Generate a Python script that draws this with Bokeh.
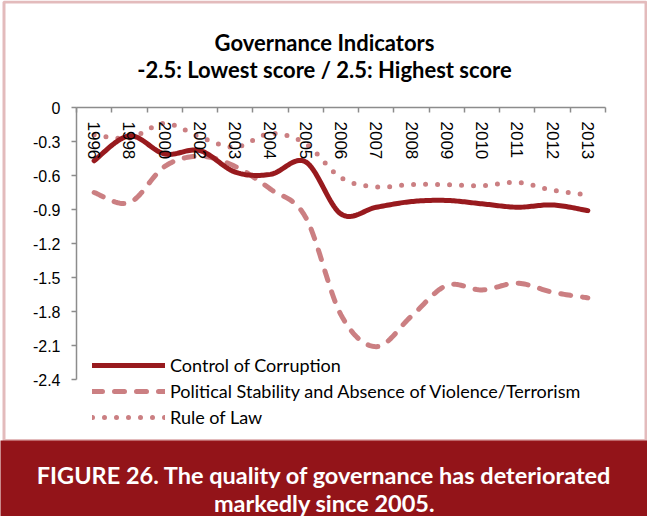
import numpy as np
from bokeh.plotting import figure
from bokeh.models import (Range1d, LinearAxis, FixedTicker, Legend, LegendItem,
                          Label, BoxAnnotation)
from bokeh.embed import file_html
from bokeh.resources import INLINE

# ---------------- data ----------------
years = ["1996", "1998", "2000", "2002", "2003", "2004", "2005", "2006",
         "2007", "2008", "2009", "2010", "2011", "2012", "2013"]
control_of_corruption = [-0.47, -0.25, -0.41, -0.38, -0.57, -0.59, -0.48, -0.94,
                         -0.88, -0.83, -0.82, -0.85, -0.88, -0.86, -0.91]
political_stability = [-0.75, -0.84, -0.52, -0.43, -0.52, -0.72, -0.97, -1.83,
                       -2.11, -1.84, -1.57, -1.61, -1.55, -1.63, -1.68]
rule_of_law = [-0.24, -0.27, -0.14, -0.26, -0.35, -0.23, -0.32, -0.62,
               -0.70, -0.68, -0.68, -0.69, -0.66, -0.73, -0.77]
y_ticks = [0, -0.3, -0.6, -0.9, -1.2, -1.5, -1.8, -2.1, -2.4]
y_tick_labels = ["0", "-0.3", "-0.6", "-0.9", "-1.2", "-1.5", "-1.8", "-2.1", "-2.4"]
series_names = ["Control of Corruption",
                "Political Stability and Absence of Violence/Terrorism",
                "Rule of Law"]
title_lines = ["Governance Indicators", "-2.5: Lowest score / 2.5: Highest score"]
caption_lines = ["FIGURE 26. The quality of governance has deteriorated",
                 "markedly since 2005."]

# ---------------- layout (pixels within the figure) ----------------
W, H = 647, 516
PL, PR = 76, 605          # plot area left / right
PT, PB = 107, 379         # y = 0 and y = -2.4
n = len(years)
ppx = (PR - PL) / n
ppy = (PB - PT) / 2.4

x0 = -PL / ppx
x1 = (W - PL) / ppx
ytop = PT / ppy
ybot = -(H - PT) / ppy


def X(px):
    return x0 + px / ppx


def Y(py):
    return ytop - py / ppy


def smooth(xs, ys, k=20):
    xs = np.asarray(xs, float)
    ys = np.asarray(ys, float)
    px = np.concatenate([[xs[0]], xs, [xs[-1]]])
    py = np.concatenate([[ys[0]], ys, [ys[-1]]])
    t = np.linspace(0, 1, k, endpoint=False)
    ox, oy = [], []
    for i in range(len(xs) - 1):
        p0 = np.array([px[i], py[i]])
        p1 = np.array([px[i + 1], py[i + 1]])
        p2 = np.array([px[i + 2], py[i + 2]])
        p3 = np.array([px[i + 3], py[i + 3]])
        c1 = p1 + (p2 - p0) / 6
        c2 = p2 - (p3 - p1) / 6
        for tt in t:
            b = ((1 - tt) ** 3) * p1 + 3 * ((1 - tt) ** 2) * tt * c1 + \
                3 * (1 - tt) * tt ** 2 * c2 + tt ** 3 * p2
            ox.append(b[0])
            oy.append(b[1])
    ox.append(xs[-1])
    oy.append(ys[-1])
    return ox, oy


p = figure(width=W, height=H, output_backend="svg", toolbar_location=None,
           x_range=Range1d(x0, x1), y_range=Range1d(ybot, ytop),
           x_axis_location=None, y_axis_location=None, min_border=0,
           background_fill_color="white", border_fill_color="white")
p.outline_line_color = None
p.xgrid.visible = False
p.ygrid.visible = False

# frame and caption banner
p.add_layout(BoxAnnotation(left=X(-5), right=X(W + 5), top=Y(440), bottom=Y(H + 5),
                           fill_color="#931419", fill_alpha=1, line_color=None,
                           level="underlay"))
p.add_layout(BoxAnnotation(left=X(3.5), right=X(645.5), top=Y(1.5), bottom=Y(440),
                           fill_color=None, line_color="#a11d22", line_width=3,
                           level="underlay"))

xs = np.arange(n) + 0.5
AXIS_COLOR = "#8c8c8c"

# y axis
yaxis = LinearAxis(fixed_location=0, bounds=(min(y_ticks), max(y_ticks)),
                   ticker=FixedTicker(ticks=y_ticks, minor_ticks=[]))
yaxis.major_label_overrides = {t: l for t, l in zip(y_ticks, y_tick_labels)}
yaxis.axis_line_color = AXIS_COLOR
yaxis.axis_line_width = 1.5
yaxis.major_tick_line_color = AXIS_COLOR
yaxis.major_tick_line_width = 1.5
yaxis.major_tick_out = 5
yaxis.major_tick_in = 0
yaxis.minor_tick_line_color = None
yaxis.major_label_standoff = 11
yaxis.major_label_text_font = "Liberation Sans"
yaxis.major_label_text_font_size = "16px"
yaxis.major_label_text_color = "black"
p.add_layout(yaxis, "left")

# x axis (category axis crossing at 0)
xaxis = LinearAxis(fixed_location=0, bounds=(0, n),
                   ticker=FixedTicker(ticks=list(xs), minor_ticks=list(range(n + 1))))
xaxis.major_label_overrides = {float(x): yr for x, yr in zip(xs, years)}
xaxis.axis_line_color = AXIS_COLOR
xaxis.axis_line_width = 1.5
xaxis.major_tick_line_color = None
xaxis.major_tick_out = 0
xaxis.major_tick_in = 0
xaxis.minor_tick_line_color = AXIS_COLOR
xaxis.minor_tick_line_width = 1.5
xaxis.minor_tick_out = 5
xaxis.minor_tick_in = 0
xaxis.major_label_orientation = "vertical"
xaxis.major_label_standoff = 9
xaxis.major_label_text_font = "Liberation Sans"
xaxis.major_label_text_font_size = "17px"
xaxis.major_label_text_color = "black"
p.add_layout(xaxis, "below")

DARK = "#981a1e"
PINK = "#cb7f82"

sx, sy = smooth(xs, political_stability)
r_ps = p.line(sx, sy, line_color=PINK, line_width=5, line_dash="10 12",
              line_cap="round", line_join="round")
sx, sy = smooth(xs, rule_of_law)
r_rl = p.line(sx, sy, line_color=PINK, line_width=5, line_dash="0 12",
              line_cap="round", line_join="round")
sx, sy = smooth(xs, control_of_corruption)
r_cc = p.line(sx, sy, line_color=DARK, line_width=5, line_cap="round",
              line_join="round")

legend = Legend(items=[LegendItem(label=series_names[0], renderers=[r_cc]),
                       LegendItem(label=series_names[1], renderers=[r_ps]),
                       LegendItem(label=series_names[2], renderers=[r_rl])],
                location=(92, H - 428))
legend.glyph_width = 73
legend.glyph_height = 20
legend.label_height = 20
legend.spacing = 4
legend.padding = 0
legend.margin = 0
legend.label_standoff = 5
legend.border_line_color = None
legend.background_fill_alpha = 0
legend.label_text_font = "Lato"
legend.label_text_font_size = "18px"
legend.label_text_color = "black"
p.add_layout(legend, "center")

# titles
for txt, base in zip(title_lines, [41.5, 68.5]):
    p.add_layout(Label(x=X(324), y=Y(base), text=txt, text_align="center",
                       text_baseline="alphabetic", text_font="Lato",
                       text_font_style="bold", text_font_size="22px",
                       text_color="black"))
for txt, base in zip(caption_lines, [474.5, 502]):
    p.add_layout(Label(x=X(324), y=Y(base), text=txt, text_align="center",
                       text_baseline="alphabetic", text_font="Lato",
                       text_font_style="bold", text_font_size="23.5px",
                       text_color="white"))

open("out.html", "w").write(file_html(p, INLINE))
